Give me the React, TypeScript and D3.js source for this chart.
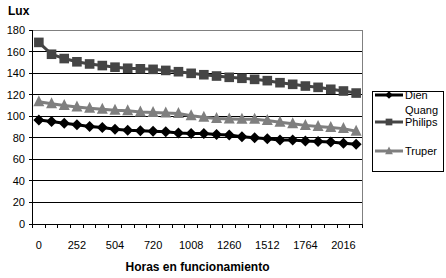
import React from "react";
import * as d3 from "d3";

const hours = [0, 84, 168, 252, 336, 420, 504, 576, 648, 720, 816, 912, 1008, 1092, 1176, 1260, 1344, 1428, 1512, 1596, 1680, 1764, 1848, 1932, 2016, 2100];
const shownLabels = ["0", "252", "504", "720", "1008", "1260", "1512", "1764", "2016"];
const dien = [96.5, 95, 93.5, 92, 90.5, 89.5, 88, 87, 86.5, 86, 85.5, 84.5, 84, 84, 83, 82.5, 81, 80, 79, 78, 78, 77, 76.5, 76, 75, 74];
const philips = [168.5, 157.5, 153.5, 150.5, 148.5, 147, 145.5, 144.5, 144, 143.5, 142.5, 141.3, 139.8, 138.5, 137.3, 136.1, 135.2, 134.2, 133, 131.1, 129.6, 128, 126.8, 125, 123.4, 121.5];
const truper = [113.5, 111.5, 110, 108.5, 107.5, 106.5, 105.5, 105, 104, 103.5, 103, 102.5, 100.5, 99, 98, 97.5, 97.2, 97.2, 96, 94.5, 93, 91.5, 90.5, 89.5, 88.5, 86];
const yTicks = [0, 20, 40, 60, 80, 100, 120, 140, 160, 180];

const series = [
  { name: "Dien", values: dien, color: "#000000", marker: "diamond" },
  { name: "Quang Philips", values: philips, color: "#454545", marker: "square" },
  { name: "Truper", values: truper, color: "#7f7f7f", marker: "triangle" },
];

const L = 32.5, R = 362.5, T = 30, B = 224;
const font = "Arial, 'Liberation Sans', sans-serif";

function Marker({ type, x, y, color, k = 1 }: { type: string; x: number; y: number; color: string; k?: number }) {
  if (type === "diamond") {
    const s = 5.5 * k;
    return <path d={`M${x},${y - s}L${x + s},${y}L${x},${y + s}L${x - s},${y}Z`} fill={color} />;
  }
  if (type === "square") {
    const s = 4.8 * k;
    return <rect x={x - s} y={y - s} width={2 * s} height={2 * s} fill={color} />;
  }
  const s = 5.5 * k;
  return <path d={`M${x},${y - s - k}L${x + s},${y + s - k}L${x - s},${y + s - k}Z`} fill={color} />;
}

export default function App() {
  const cats = hours.map(String);
  const x = d3.scaleBand<string>().domain(cats).range([L, R]);
  const y = d3.scaleLinear().domain([0, 180]).range([B, T]);
  const cx = (i: number) => (x(cats[i]) as number) + x.bandwidth() / 2;
  const line = d3.line<number>().x((_, i) => cx(i)).y((v) => y(v));

  const legendItems = [
    { s: series[0], lines: ["Dien"], ly: 95 },
    { s: series[1], lines: ["Quang", "Philips"], ly: 122 },
    { s: series[2], lines: ["Truper"], ly: 151 },
  ];

  return (
    <svg width={446} height={278} style={{ position: "absolute", left: 0, top: 0 }} fontFamily={font}>
      <rect x={0} y={0} width={446} height={278} fill="#fff" />
      {yTicks.filter((t) => t > 0 && t < 180).map((t) => (
        <line key={t} x1={L} x2={R} y1={y(t)} y2={y(t)} stroke="#000" strokeWidth={1} shapeRendering="crispEdges" />
      ))}
      <line x1={L} x2={R} y1={y(180)} y2={y(180)} stroke="#808080" strokeWidth={1} shapeRendering="crispEdges" />
      <line x1={R} x2={R} y1={T} y2={B} stroke="#808080" strokeWidth={1} shapeRendering="crispEdges" />
      <line x1={L} x2={L} y1={T} y2={B} stroke="#000" strokeWidth={1} shapeRendering="crispEdges" />
      <line x1={L} x2={R} y1={B} y2={B} stroke="#000" strokeWidth={1} shapeRendering="crispEdges" />
      {yTicks.map((t) => (
        <g key={t}>
          <line x1={L - 4} x2={L} y1={y(t)} y2={y(t)} stroke="#000" shapeRendering="crispEdges" />
          <text x={25} y={y(t) + 4} textAnchor="end" fontSize={11} fill="#000">{t}</text>
        </g>
      ))}
      {cats.map((c) => (
        <line key={c} x1={x(c) as number} x2={x(c) as number} y1={B} y2={B + 4} stroke="#000" shapeRendering="crispEdges" />
      ))}
      <line x1={R} x2={R} y1={B} y2={B + 4} stroke="#000" shapeRendering="crispEdges" />
      {shownLabels.map((lab, k) => (
        <text key={lab} x={cx(k * 3)} y={249} textAnchor="middle" fontSize={11} fill="#000">{lab}</text>
      ))}
      {series.map((s) => (
        <g key={s.name}>
          <path d={line(s.values) || ""} fill="none" stroke={s.color} strokeWidth={3} />
          {s.values.map((v, i) => (
            <Marker key={i} type={s.marker} x={cx(i)} y={y(v)} color={s.color} />
          ))}
        </g>
      ))}
      <text x={8} y={15} fontSize={12} fontWeight="bold" fill="#000">Lux</text>
      <text x={(L + R) / 2} y={271} textAnchor="middle" fontSize={12} fontWeight="bold" fill="#000">Horas en funcionamiento</text>
      <rect x={372.5} y={91.5} width={71} height={80} fill="#fff" stroke="#000" strokeWidth={1} />
      {legendItems.map(({ s, lines, ly }) => (
        <g key={s.name}>
          <line x1={375} x2={403} y1={ly} y2={ly} stroke={s.color} strokeWidth={3} />
          <Marker type={s.marker} x={389} y={ly} color={s.color} k={0.7} />
          {lines.map((t, j) => (
            <text key={t} x={405} y={ly + 4 - (lines.length - 1 - j) * 12} fontSize={11} fill="#000">{t}</text>
          ))}
        </g>
      ))}
    </svg>
  );
}
